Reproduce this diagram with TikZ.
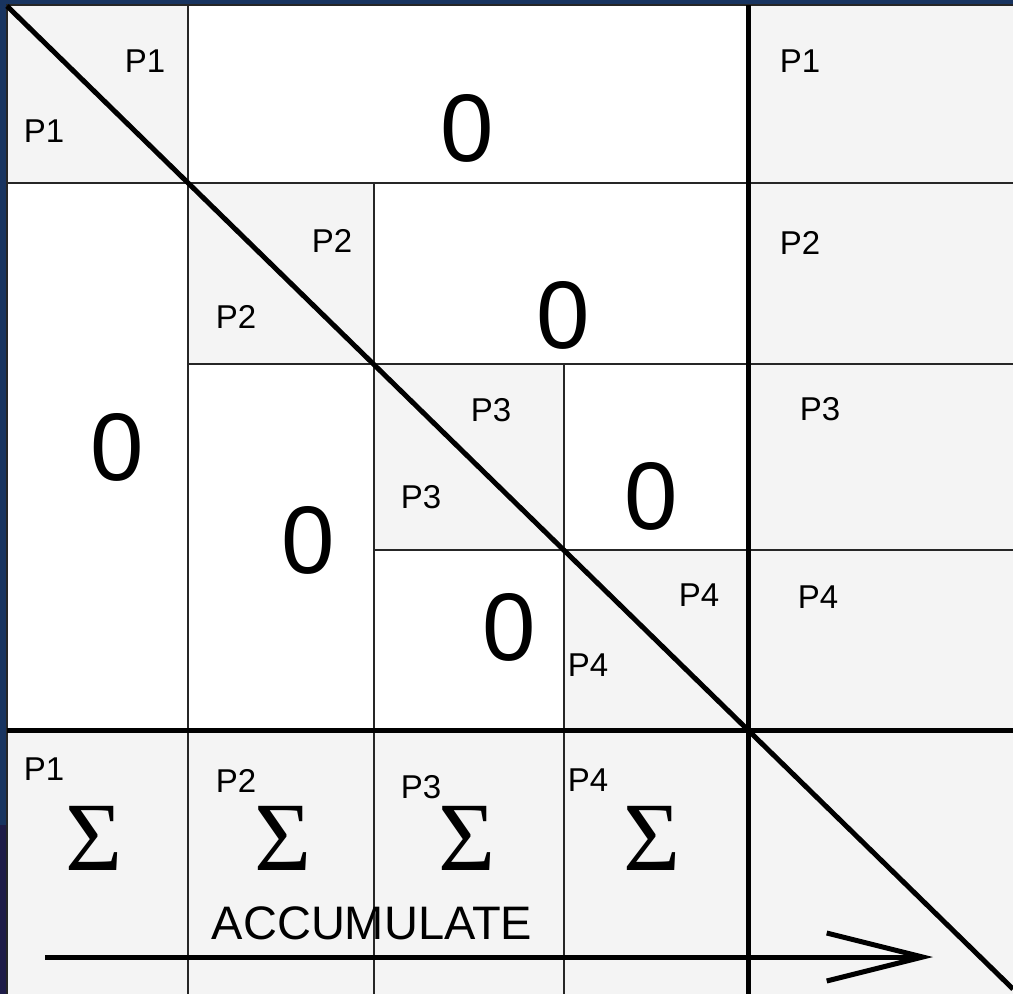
\documentclass[tikz,border=0pt]{standalone}
\usepackage{fontspec}
\setmainfont{Liberation Sans}
\newfontfamily\sigmafont{Liberation Serif}
\usepackage{xcolor}
\usepackage{tikz}
\usetikzlibrary{arrows.meta,positioning,calc}

\definecolor{frameblue}{RGB}{24,52,96}
\definecolor{framenavy}{RGB}{30,28,72}
\definecolor{cellgray}{RGB}{244,244,244}

\begin{document}
\begin{tikzpicture}[
    x=1pt, y=-1pt,
    cellfill/.style={fill=cellgray},
    gridline/.style={draw=black!85, line width=2pt},
    heavyline/.style={draw=black, line width=5pt},
    plabel/.style={inner sep=0pt, font=\fontsize{33}{33}\selectfont},
    zerolabel/.style={inner sep=0pt, font=\fontsize{96}{96}\selectfont},
    sumsign/.style={inner sep=0pt, font=\sigmafont\fontsize{98}{98}\selectfont},
    acclabel/.style={inner sep=0pt, font=\fontsize{47}{47}\selectfont},
    accarrow/.style={-{Straight Barb[length=96pt, width=48pt]}, line width=5pt}
]
\useasboundingbox (0,0) rectangle (1013,994);

% Frame
\fill[frameblue] (0,0) rectangle (1013,994);
\fill[framenavy] (0,825) rectangle (7,994);
\fill[white] (7,5) rectangle (1013,994);

% Shaded blocks: diagonal, right column, bottom row
\fill[cellfill] (7,5) rectangle (188,183);
\fill[cellfill] (188,183) rectangle (374,364);
\fill[cellfill] (374,364) rectangle (564,550);
\fill[cellfill] (564,550) rectangle (748,730);
\fill[cellfill] (748,5) rectangle (1013,730);
\fill[cellfill] (7,730) rectangle (1013,994);

% Grid lines
\draw[gridline] (7,994) -- (7,5) -- (1013,5);
\draw[gridline] (7,183) -- (1013,183);
\draw[gridline] (188,364) -- (1013,364);
\draw[gridline] (374,550) -- (1013,550);
\draw[gridline] (188,5) -- (188,994);
\draw[gridline] (374,183) -- (374,994);
\draw[gridline] (564,364) -- (564,994);
\draw[heavyline] (748,5) -- (748,994);
\draw[heavyline] (7,730) -- (1013,730);

% Diagonal
\coordinate (diagtop) at (7,6);
\coordinate (diagend) at (1013,989);
\draw[heavyline] (diagtop) -- (diagend);

% Row 1
\node[plabel] (p1up) at (145,61) {P1};
\node[plabel] (p1lo) at (44,131) {P1};
\node[zerolabel] (z12) at (467,128) {0};
\node[plabel] (p1r) at (800,61) {P1};

% Row 2
\node[zerolabel] (z21) at (117,447) {0};
\node[plabel] (p2up) at (332,241) {P2};
\node[plabel] (p2lo) at (236,317) {P2};
\node[zerolabel] (z23) at (563,315) {0};
\node[plabel] (p2r) at (800,243) {P2};

% Row 3
\node[zerolabel] (z32) at (308,540) {0};
\node[plabel] (p3up) at (491,410) {P3};
\node[plabel] (p3lo) at (421,497) {P3};
\node[zerolabel] (z34) at (651,496) {0};
\node[plabel] (p3r) at (820,409) {P3};

% Row 4
\node[zerolabel] (z43) at (509,627) {0};
\node[plabel] (p4up) at (699,595) {P4};
\node[plabel] (p4lo) at (588,665) {P4};
\node[plabel] (p4r) at (818,597) {P4};

% Sums
\node[plabel] (s1lab) at (44,769) {P1};
\node[sumsign] (s1) at (94,838) {Σ};
\node[plabel] (s2lab) at (236,781) {P2};
\node[sumsign] (s2) at (283,838) {Σ};
\node[plabel] (s3lab) at (421,787) {P3};
\node[sumsign] (s3) at (467,838) {Σ};
\node[plabel] (s4lab) at (588,780) {P4};
\node[sumsign] (s4) at (652,838) {Σ};

% Accumulate
\node[acclabel] (acc) at (372,923) {ACCUMULATE};
\coordinate (accstart) at (45,957);
\coordinate (accend) at (933,957);
\draw[accarrow] (accstart) -- (accend);

\end{tikzpicture}
\end{document}
